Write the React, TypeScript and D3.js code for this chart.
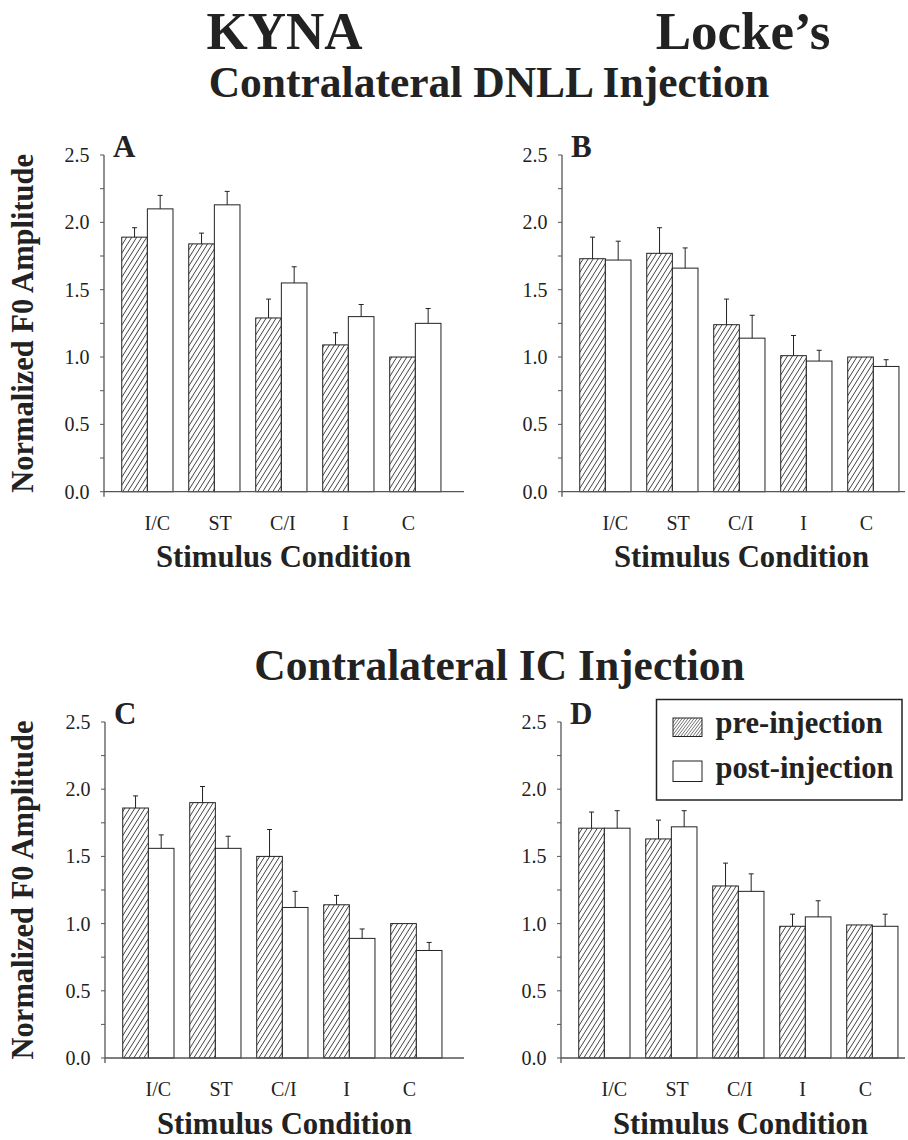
import React from 'react';
import * as d3 from 'd3';

const categories = ['I/C', 'ST', 'C/I', 'I', 'C'];
const yTickValues = [0, 0.25, 0.5, 0.75, 1, 1.25, 1.5, 1.75, 2, 2.25, 2.5];

// panel A - KYNA, contralateral DNLL
const aPre = [1.89, 1.84, 1.29, 1.09, 1.0];
const aPreErr = [0.07, 0.08, 0.14, 0.09, 0];
const aPost = [2.1, 2.13, 1.55, 1.3, 1.25];
const aPostErr = [0.1, 0.1, 0.12, 0.09, 0.11];

// panel B - Locke's, contralateral DNLL
const bPre = [1.73, 1.77, 1.24, 1.01, 1.0];
const bPreErr = [0.16, 0.19, 0.19, 0.15, 0];
const bPost = [1.72, 1.66, 1.14, 0.97, 0.93];
const bPostErr = [0.14, 0.15, 0.17, 0.08, 0.05];

// panel C - KYNA, contralateral IC
const cPre = [1.86, 1.9, 1.5, 1.14, 1.0];
const cPreErr = [0.09, 0.12, 0.2, 0.07, 0];
const cPost = [1.56, 1.56, 1.12, 0.89, 0.8];
const cPostErr = [0.1, 0.09, 0.12, 0.07, 0.06];

// panel D - Locke's, contralateral IC
const dPre = [1.71, 1.63, 1.28, 0.98, 0.99];
const dPreErr = [0.12, 0.14, 0.17, 0.09, 0];
const dPost = [1.71, 1.72, 1.24, 1.05, 0.98];
const dPostErr = [0.13, 0.12, 0.13, 0.12, 0.09];

const FONT = '"Liberation Serif", "Times New Roman", Times, serif';
const AXIS = '#555';
const INK = '#222';

interface PanelProps {
    letter: string;
    axisX: number;
    top: number;
    bottom: number;
    xEnd: number;
    pre: number[];
    preErr: number[];
    post: number[];
    postErr: number[];
    yLabel: boolean;
}

const Panel: React.FC<PanelProps> = ({ letter, axisX, top, bottom, xEnd, pre, preErr, post, postErr, yLabel }) => {
    const y = d3.scaleLinear().domain([0, 2.5]).range([bottom, top]);
    const x = d3.scaleBand<string>()
        .domain(categories)
        .range([axisX + 9.7, axisX + 345])
        .paddingInner(0.235)
        .paddingOuter(0.12);
    const bw = x.bandwidth();
    const sub = d3.scaleBand<string>().domain(['pre', 'post']).range([0, bw]);
    // the category labels sit a little closer together than the bar groups
    const labelX = d3.scalePoint<string>()
        .domain(categories)
        .range([(x(categories[0]) as number) + bw / 2 + 10, (x(categories[4]) as number) + bw / 2 - 7]);
    const fmt = d3.format('.1f');

    const series = [
        { key: 'pre', vals: pre, errs: preErr, fill: 'url(#hatch)' },
        { key: 'post', vals: post, errs: postErr, fill: '#fff' },
    ];

    return (
        <g>
            {series.map(s => (
                <g key={s.key}>
                    {categories.map((c, i) => {
                        const bx = (x(c) as number) + (sub(s.key) as number);
                        return (
                            <rect key={c} x={bx} y={y(s.vals[i])} width={sub.bandwidth()} height={y(0) - y(s.vals[i])}
                                fill={s.fill} stroke={INK} strokeWidth={1} />
                        );
                    })}
                </g>
            ))}
            {/* error bars, upper half only */}
            {series.map(s => (
                <g key={s.key + '-err'} stroke={INK} strokeWidth={1}>
                    {categories.map((c, i) => {
                        if (!s.errs[i]) return null;
                        const cx = (x(c) as number) + (sub(s.key) as number) + sub.bandwidth() / 2;
                        const y1 = y(s.vals[i]);
                        const y2 = y(s.vals[i] + s.errs[i]);
                        return (
                            <g key={c}>
                                <line x1={cx} x2={cx} y1={y1} y2={y2} />
                                <line x1={cx - 2.5} x2={cx + 2.5} y1={y2} y2={y2} />
                            </g>
                        );
                    })}
                </g>
            ))}
            <line x1={axisX} x2={axisX} y1={y(2.5)} y2={y(0) + 5} stroke={AXIS} strokeWidth={1.3} />
            <line x1={axisX} x2={xEnd} y1={y(0)} y2={y(0)} stroke={AXIS} strokeWidth={1.3} />
            {yTickValues.map((t, i) => (
                <g key={t}>
                    <line x1={axisX - 4} x2={axisX} y1={y(t)} y2={y(t)} stroke={AXIS} strokeWidth={1} />
                    {i % 2 === 0 && (
                        <text x={axisX - 14.5} y={y(t)} dy="0.35em" textAnchor="end"
                            fontFamily={FONT} fontSize={20} fill={INK}>{fmt(t)}</text>
                    )}
                </g>
            ))}
            {categories.map(c => (
                <text key={c} x={labelX(c)} y={y(0) + 38} textAnchor="middle"
                    fontFamily={FONT} fontSize={20} fill={INK}>{c}</text>
            ))}
            <text x={axisX + 179.5} y={y(0) + 75.5} textAnchor="middle" fontFamily={FONT}
                fontSize={30.7} fontWeight="bold" fill={INK}>Stimulus Condition</text>
            {yLabel && (
                <text transform={`translate(33,${(top + bottom) / 2}) rotate(-90)`} textAnchor="middle"
                    fontFamily={FONT} fontSize={30.5} fontWeight="bold" fill={INK}>Normalized F0 Amplitude</text>
            )}
            <text x={axisX + 9} y={top + 1.5} fontFamily={FONT} fontSize={31} fontWeight="bold" fill={INK}>{letter}</text>
        </g>
    );
};

export default function App() {
    return (
        <div style={{ position: 'absolute', left: 0, top: 0 }}>
            <svg width={908} height={1140} viewBox="0 0 908 1140" style={{ display: 'block', background: '#fff' }}>
                <defs>
                    <pattern id="hatch" patternUnits="userSpaceOnUse" width={5} height={8}>
                        <path d="M-1,1.6 L1,-1.6 M0,8 L5,0 M4,9.6 L6,6.4" stroke="#111" strokeWidth={0.8} />
                    </pattern>
                    <pattern id="hatchFine" patternUnits="userSpaceOnUse" width={3} height={4}>
                        <path d="M-1,1.33 L1,-1.33 M0,4 L3,0 M2,5.33 L4,2.67" stroke="#333" strokeWidth={0.7} />
                    </pattern>
                </defs>

                <text x={284.5} y={49} textAnchor="middle" fontFamily={FONT} fontSize={53} fontWeight="bold" fill={INK}>KYNA</text>
                <text x={743} y={49} textAnchor="middle" fontFamily={FONT} fontSize={53} fontWeight="bold" fill={INK}>Locke’s</text>
                <text x={489} y={97} textAnchor="middle" fontFamily={FONT} fontSize={43.5} fontWeight="bold" fill={INK}>Contralateral DNLL Injection</text>
                <text x={499.5} y={680} textAnchor="middle" fontFamily={FONT} fontSize={43.5} fontWeight="bold" fill={INK}>Contralateral IC Injection</text>

                <Panel letter="A" axisX={104} top={155} bottom={491.7} xEnd={464}
                    pre={aPre} preErr={aPreErr} post={aPost} postErr={aPostErr} yLabel />
                <Panel letter="B" axisX={562} top={155} bottom={491.7} xEnd={905}
                    pre={bPre} preErr={bPreErr} post={bPost} postErr={bPostErr} yLabel={false} />
                <Panel letter="C" axisX={105} top={722} bottom={1058} xEnd={464}
                    pre={cPre} preErr={cPreErr} post={cPost} postErr={cPostErr} yLabel />
                <Panel letter="D" axisX={561} top={722} bottom={1058} xEnd={905}
                    pre={dPre} preErr={dPreErr} post={dPost} postErr={dPostErr} yLabel={false} />

                <g>
                    <rect x={656.5} y={699.5} width={245.5} height={100.5} fill="#fff" stroke={INK} strokeWidth={1.5} />
                    <rect x={673} y={718} width={29} height={18.5} fill="url(#hatchFine)" stroke={INK} strokeWidth={1} />
                    <rect x={673} y={761} width={29} height={20.5} fill="#fff" stroke={INK} strokeWidth={1} />
                    <text x={715.5} y={733} fontFamily={FONT} fontSize={30.5} fontWeight="bold" fill={INK}>pre-injection</text>
                    <text x={715.5} y={777.5} fontFamily={FONT} fontSize={30.5} fontWeight="bold" fill={INK}>post-injection</text>
                </g>
            </svg>
        </div>
    );
}
